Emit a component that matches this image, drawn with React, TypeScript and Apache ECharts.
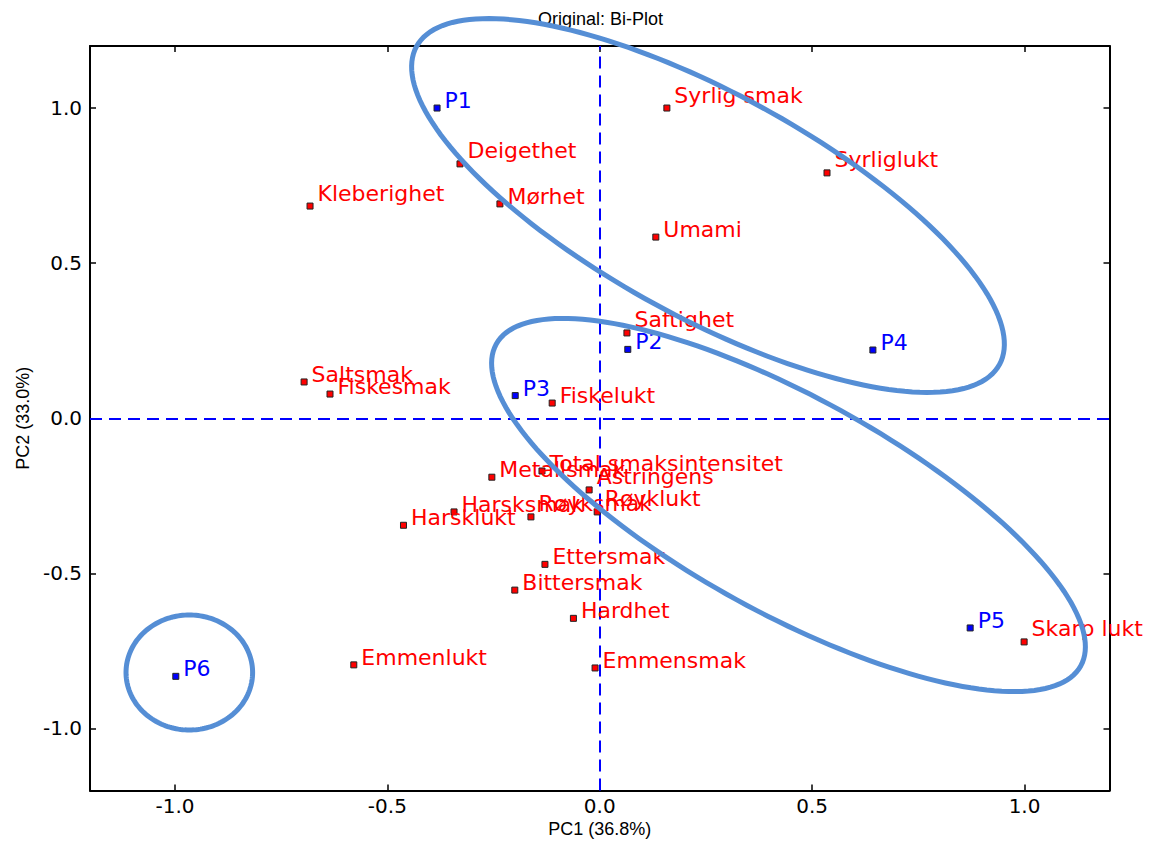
import { useEffect, useRef } from "react";
import * as echarts from "echarts";

// Objects (scores)
const objectNames = ["P1", "P2", "P3", "P4", "P5", "P6"];
const objectPC1 = [-0.383, 0.066, -0.199, 0.643, 0.872, -0.998];
const objectPC2 = [1.0, 0.222, 0.073, 0.22, -0.676, -0.832];

// Variables (loadings)
const variableNames = [
  "Syrlig smak", "Syrliglukt", "Deigethet", "Kleberighet", "Mørhet", "Umami",
  "Saftighet", "Saltsmak", "Fiskesmak", "Fiskelukt", "Metallsmak",
  "Total smaksintensitet", "Astringens", "Harsksmak", "Røyksmak", "Røyklukt",
  "Harsklukt", "Ettersmak", "Bittersmak", "Hardhet", "Emmenlukt", "Emmensmak",
  "Skarp lukt",
];
const variablePC1 = [
  0.158, 0.535, -0.329, -0.682, -0.235, 0.132,
  0.064, -0.696, -0.635, -0.112, -0.254,
  -0.136, -0.025, -0.343, -0.162, -0.006,
  -0.462, -0.129, -0.2, -0.062, -0.579, -0.011,
  0.999,
];
const variablePC2 = [
  1.0, 0.791, 0.82, 0.684, 0.691, 0.584,
  0.275, 0.117, 0.078, 0.049, -0.19,
  -0.17, -0.231, -0.302, -0.318, -0.302,
  -0.345, -0.471, -0.554, -0.645, -0.795, -0.805,
  -0.721,
];

// Labels whose text sits a little higher above their marker in the original
const raisedLabels = [
  "Syrlig smak", "Syrliglukt", "Deigethet", "Kleberighet", "Saftighet",
  "Astringens", "Røyksmak", "Røyklukt", "Skarp lukt",
];

const tickValues = [-1.0, -0.5, 0.0, 0.5, 1.0];
const axisMin = -1.2;
const axisMax = 1.2;

// Hand-drawn ellipse annotations: centre and two semi-axis vectors (PC units)
const ellipseCentres = [
  [0.2548, 0.6858],
  [0.4443, -0.2797],
  [-0.9662, -0.8196],
];
const ellipseMajor = [
  [0.6862, -0.5126],
  [0.6881, -0.5184],
  [0.149, 0],
];
const ellipseMinor = [
  [-0.1262, -0.3169],
  [-0.1226, -0.305],
  [0, -0.1854],
];

export default function App() {
  const ref = useRef<HTMLDivElement>(null);

  useEffect(() => {
    if (!ref.current) return;
    const chart = echarts.init(ref.current, undefined, { renderer: "svg" });

    const tickFont = { fontFamily: "DejaVu Sans", fontSize: 20, color: "#000" };
    const nameFont = { fontFamily: "Liberation Sans", fontSize: 18, color: "#000" };

    const makeAxis = (position: string, withLabels: boolean, name?: string, gap?: number, rotate?: number) => ({
      type: "value",
      min: axisMin,
      max: axisMax,
      position,
      name: name,
      nameLocation: "middle",
      nameGap: gap,
      nameRotate: rotate,
      nameTextStyle: nameFont,
      axisLine: { show: true, onZero: false, lineStyle: { color: "#000", width: 2 } },
      axisTick: {
        show: true,
        inside: true,
        length: 6,
        customValues: tickValues,
        lineStyle: { color: "#000", width: 1.5 },
      },
      axisLabel: {
        show: withLabels,
        customValues: tickValues,
        formatter: (v: number) => v.toFixed(1),
        margin: position === "bottom" ? 5 : 8,
        ...tickFont,
      },
      splitLine: { show: false },
    });

    const variableData = variableNames.map((n, i) => ({
      name: n,
      value: [variablePC1[i], variablePC2[i]],
      label: { offset: [0, raisedLabels.includes(n) ? -13 : -7.5] },
    }));
    const objectData = objectNames.map((n, i) => ({ name: n, value: [objectPC1[i], objectPC2[i]] }));
    const ellipseData = ellipseCentres.map((c, i) => [
      c[0], c[1], ellipseMajor[i][0], ellipseMajor[i][1], ellipseMinor[i][0], ellipseMinor[i][1],
    ]);

    const labelBase = {
      show: true,
      position: "right",
      distance: 4,
      formatter: "{b}",
      fontFamily: "DejaVu Sans",
      fontSize: 22,
    };

    chart.setOption({
      animation: false,
      backgroundColor: "#fff",
      title: {
        text: "Original: Bi-Plot",
        left: 538,
        top: 10,
        padding: 0,
        textStyle: { fontFamily: "Liberation Sans", fontSize: 18, fontWeight: "normal", color: "#000" },
      },
      grid: { left: 90, right: 43.5, top: 46, bottom: 52.5, outerBoundsMode: "none" },
      xAxis: [
        makeAxis("bottom", true, "PC1 (36.8%)", 29),
        makeAxis("top", false),
      ],
      yAxis: [
        makeAxis("left", true, "PC2 (33.0%)", 55, 90),
        makeAxis("right", false),
      ],
      series: [
        {
          type: "scatter",
          name: "Variables",
          xAxisIndex: 0,
          yAxisIndex: 0,
          symbol: "rect",
          symbolSize: 6,
          itemStyle: { color: "#ff0000", borderColor: "#222", borderWidth: 1, opacity: 1 },
          label: { ...labelBase, color: "#ff0000" },
          data: variableData,
          z: 3,
          markLine: {
            silent: true,
            symbol: ["none", "none"],
            label: { show: false },
            lineStyle: { color: "#0000ff", width: 2, type: [12, 7] },
            data: [{ xAxis: 0 }, { yAxis: 0 }],
            z: 1,
          },
        },
        {
          type: "scatter",
          name: "Objects",
          xAxisIndex: 0,
          yAxisIndex: 0,
          symbol: "rect",
          symbolSize: 6,
          itemStyle: { color: "#0000ff", borderColor: "#222", borderWidth: 1, opacity: 1 },
          label: { ...labelBase, offset: [0, -7.5], color: "#0000ff" },
          data: objectData,
          z: 4,
        },
        {
          type: "custom",
          name: "Groups",
          xAxisIndex: 0,
          yAxisIndex: 0,
          clip: false,
          silent: true,
          z: 10,
          encode: { x: 0, y: 1 },
          data: ellipseData,
          renderItem: (_params: any, api: any) => {
            const cx = api.value(0);
            const cy = api.value(1);
            const ux = api.value(2);
            const uy = api.value(3);
            const vx = api.value(4);
            const vy = api.value(5);
            const pts: number[][] = [];
            const n = 180;
            for (let i = 0; i < n; i++) {
              const t = (i / n) * Math.PI * 2;
              pts.push(api.coord([cx + ux * Math.cos(t) + vx * Math.sin(t), cy + uy * Math.cos(t) + vy * Math.sin(t)]));
            }
            return {
              type: "polygon",
              shape: { points: pts },
              style: { fill: "none", stroke: "#558ed5", lineWidth: 5 },
            };
          },
        },
      ],
    });

    return () => chart.dispose();
  }, []);

  return (
    <div
      ref={ref}
      style={{ position: "absolute", left: 0, top: 0, width: 1153, height: 843, background: "#fff" }}
    />
  );
}
